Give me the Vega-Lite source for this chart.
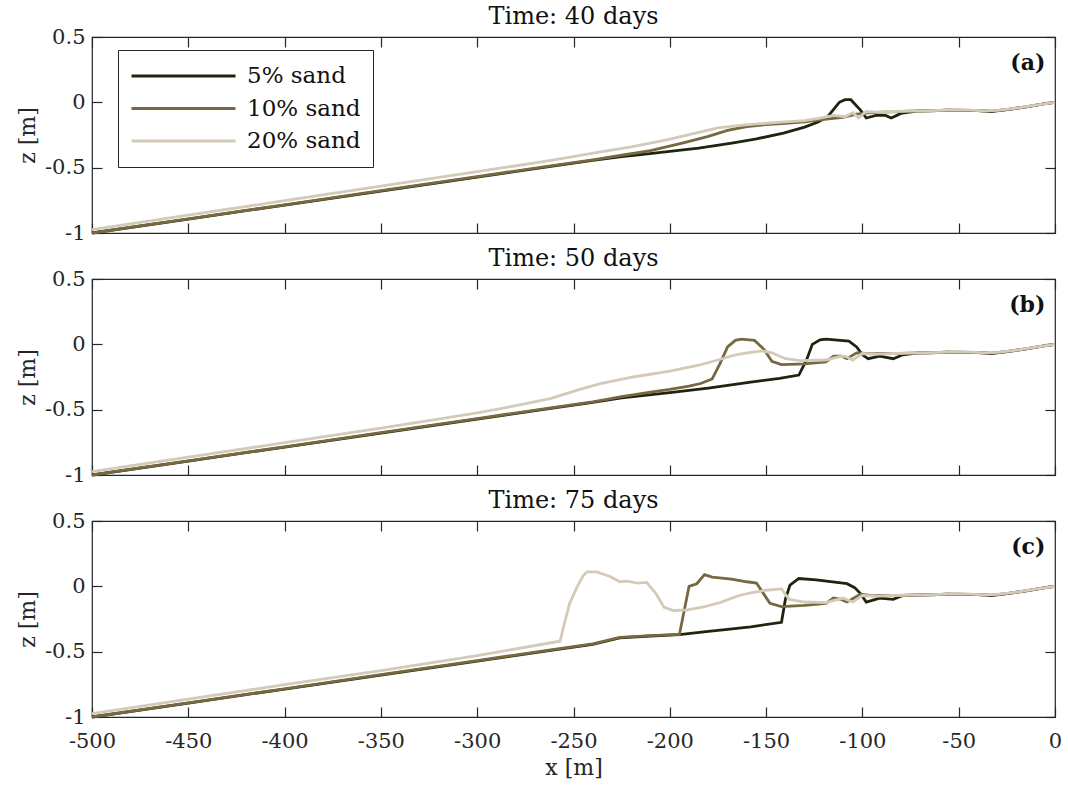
{
  "$schema": "https://vega.github.io/schema/vega-lite/v6.json",
  "background": "white",
  "padding": {"left": 15, "top": 4, "right": 12, "bottom": 4},
  "config": {
    "font": "DejaVu Serif",
    "view": {"stroke": "#262626", "strokeWidth": 1.2},
    "axis": {
      "domain": false, "grid": false, "tickSize": -10, "tickColor": "#262626", "tickWidth": 1.2,
      "labelFont": "DejaVu Serif", "labelFontSize": 21, "labelColor": "#262626",
      "labelFlush": false, "labelOverlap": false,
      "titleFont": "DejaVu Serif", "titleFontSize": 22, "titleFontWeight": "normal", "titleColor": "#262626"
    },
    "axisY": {"labelPadding": 17, "titlePadding": 5},
    "axisX": {"labelPadding": 23, "titlePadding": 6},
    "title": {"font": "DejaVu Serif", "fontSize": 24, "fontWeight": "normal", "color": "#111111", "offset": -3},
    "legend": {"labelFont": "DejaVu Serif"}
  },
  "spacing": 2,
  "resolve": {"legend": {"color": "independent"}},
  "datasets": {
    "d": [
      {"p":"a","s":"5% sand","x":-500,"z":-1.0},{"p":"a","s":"5% sand","x":-450,"z":-0.893},{"p":"a","s":"5% sand","x":-400,"z":-0.786},{"p":"a","s":"5% sand","x":-350,"z":-0.679},{"p":"a","s":"5% sand","x":-300,"z":-0.572},{"p":"a","s":"5% sand","x":-260,"z":-0.486},{"p":"a","s":"5% sand","x":-240,"z":-0.445},{"p":"a","s":"5% sand","x":-225,"z":-0.415},{"p":"a","s":"5% sand","x":-215,"z":-0.4},{"p":"a","s":"5% sand","x":-200,"z":-0.375},{"p":"a","s":"5% sand","x":-185,"z":-0.35},{"p":"a","s":"5% sand","x":-167,"z":-0.31},{"p":"a","s":"5% sand","x":-155,"z":-0.28},{"p":"a","s":"5% sand","x":-141,"z":-0.235},{"p":"a","s":"5% sand","x":-130,"z":-0.19},{"p":"a","s":"5% sand","x":-123,"z":-0.15},{"p":"a","s":"5% sand","x":-118,"z":-0.11},{"p":"a","s":"5% sand","x":-112,"z":0.0},{"p":"a","s":"5% sand","x":-109,"z":0.02},{"p":"a","s":"5% sand","x":-106,"z":0.02},{"p":"a","s":"5% sand","x":-101,"z":-0.06},{"p":"a","s":"5% sand","x":-98,"z":-0.12},{"p":"a","s":"5% sand","x":-93,"z":-0.1},{"p":"a","s":"5% sand","x":-88,"z":-0.1},{"p":"a","s":"5% sand","x":-85,"z":-0.12},{"p":"a","s":"5% sand","x":-80,"z":-0.085},{"p":"a","s":"5% sand","x":-72,"z":-0.068},{"p":"a","s":"5% sand","x":-64,"z":-0.065},{"p":"a","s":"5% sand","x":-56,"z":-0.06},{"p":"a","s":"5% sand","x":-48,"z":-0.062},{"p":"a","s":"5% sand","x":-40,"z":-0.064},{"p":"a","s":"5% sand","x":-33,"z":-0.07},{"p":"a","s":"5% sand","x":-25,"z":-0.055},{"p":"a","s":"5% sand","x":-15,"z":-0.035},{"p":"a","s":"5% sand","x":-5,"z":-0.01},{"p":"a","s":"5% sand","x":0,"z":0.0},

      {"p":"a","s":"10% sand","x":-500,"z":-1.0},{"p":"a","s":"10% sand","x":-450,"z":-0.892},{"p":"a","s":"10% sand","x":-400,"z":-0.784},{"p":"a","s":"10% sand","x":-350,"z":-0.676},{"p":"a","s":"10% sand","x":-300,"z":-0.568},{"p":"a","s":"10% sand","x":-260,"z":-0.482},{"p":"a","s":"10% sand","x":-240,"z":-0.44},{"p":"a","s":"10% sand","x":-225,"z":-0.405},{"p":"a","s":"10% sand","x":-210,"z":-0.37},{"p":"a","s":"10% sand","x":-193,"z":-0.31},{"p":"a","s":"10% sand","x":-180,"z":-0.26},{"p":"a","s":"10% sand","x":-170,"z":-0.215},{"p":"a","s":"10% sand","x":-160,"z":-0.185},{"p":"a","s":"10% sand","x":-150,"z":-0.17},{"p":"a","s":"10% sand","x":-140,"z":-0.16},{"p":"a","s":"10% sand","x":-130,"z":-0.15},{"p":"a","s":"10% sand","x":-120,"z":-0.13},{"p":"a","s":"10% sand","x":-110,"z":-0.115},{"p":"a","s":"10% sand","x":-103,"z":-0.09},{"p":"a","s":"10% sand","x":-97,"z":-0.08},{"p":"a","s":"10% sand","x":-90,"z":-0.075},{"p":"a","s":"10% sand","x":-80,"z":-0.07},{"p":"a","s":"10% sand","x":-72,"z":-0.066},{"p":"a","s":"10% sand","x":-64,"z":-0.064},{"p":"a","s":"10% sand","x":-56,"z":-0.06},{"p":"a","s":"10% sand","x":-48,"z":-0.06},{"p":"a","s":"10% sand","x":-40,"z":-0.063},{"p":"a","s":"10% sand","x":-33,"z":-0.068},{"p":"a","s":"10% sand","x":-25,"z":-0.055},{"p":"a","s":"10% sand","x":-15,"z":-0.035},{"p":"a","s":"10% sand","x":-5,"z":-0.01},{"p":"a","s":"10% sand","x":0,"z":0.0},

      {"p":"a","s":"20% sand","x":-500,"z":-0.975},{"p":"a","s":"20% sand","x":-450,"z":-0.864},{"p":"a","s":"20% sand","x":-400,"z":-0.753},{"p":"a","s":"20% sand","x":-350,"z":-0.642},{"p":"a","s":"20% sand","x":-300,"z":-0.531},{"p":"a","s":"20% sand","x":-260,"z":-0.44},{"p":"a","s":"20% sand","x":-236,"z":-0.38},{"p":"a","s":"20% sand","x":-220,"z":-0.34},{"p":"a","s":"20% sand","x":-201,"z":-0.285},{"p":"a","s":"20% sand","x":-185,"z":-0.23},{"p":"a","s":"20% sand","x":-175,"z":-0.195},{"p":"a","s":"20% sand","x":-162,"z":-0.175},{"p":"a","s":"20% sand","x":-150,"z":-0.16},{"p":"a","s":"20% sand","x":-140,"z":-0.15},{"p":"a","s":"20% sand","x":-130,"z":-0.14},{"p":"a","s":"20% sand","x":-122,"z":-0.12},{"p":"a","s":"20% sand","x":-115,"z":-0.1},{"p":"a","s":"20% sand","x":-109,"z":-0.11},{"p":"a","s":"20% sand","x":-105,"z":-0.08},{"p":"a","s":"20% sand","x":-102,"z":-0.12},{"p":"a","s":"20% sand","x":-98,"z":-0.07},{"p":"a","s":"20% sand","x":-92,"z":-0.075},{"p":"a","s":"20% sand","x":-84,"z":-0.07},{"p":"a","s":"20% sand","x":-76,"z":-0.068},{"p":"a","s":"20% sand","x":-68,"z":-0.065},{"p":"a","s":"20% sand","x":-60,"z":-0.062},{"p":"a","s":"20% sand","x":-52,"z":-0.058},{"p":"a","s":"20% sand","x":-44,"z":-0.06},{"p":"a","s":"20% sand","x":-36,"z":-0.065},{"p":"a","s":"20% sand","x":-30,"z":-0.062},{"p":"a","s":"20% sand","x":-20,"z":-0.045},{"p":"a","s":"20% sand","x":-10,"z":-0.022},{"p":"a","s":"20% sand","x":0,"z":0.0},

      {"p":"b","s":"5% sand","x":-500,"z":-1.0},{"p":"b","s":"5% sand","x":-450,"z":-0.893},{"p":"b","s":"5% sand","x":-400,"z":-0.786},{"p":"b","s":"5% sand","x":-350,"z":-0.679},{"p":"b","s":"5% sand","x":-300,"z":-0.572},{"p":"b","s":"5% sand","x":-260,"z":-0.486},{"p":"b","s":"5% sand","x":-240,"z":-0.445},{"p":"b","s":"5% sand","x":-225,"z":-0.41},{"p":"b","s":"5% sand","x":-200,"z":-0.37},{"p":"b","s":"5% sand","x":-180,"z":-0.335},{"p":"b","s":"5% sand","x":-158,"z":-0.29},{"p":"b","s":"5% sand","x":-143,"z":-0.26},{"p":"b","s":"5% sand","x":-133,"z":-0.235},{"p":"b","s":"5% sand","x":-129,"z":-0.12},{"p":"b","s":"5% sand","x":-126,"z":0.0},{"p":"b","s":"5% sand","x":-122,"z":0.035},{"p":"b","s":"5% sand","x":-119,"z":0.04},{"p":"b","s":"5% sand","x":-107,"z":0.025},{"p":"b","s":"5% sand","x":-103,"z":-0.02},{"p":"b","s":"5% sand","x":-100,"z":-0.08},{"p":"b","s":"5% sand","x":-97,"z":-0.11},{"p":"b","s":"5% sand","x":-91,"z":-0.09},{"p":"b","s":"5% sand","x":-84,"z":-0.11},{"p":"b","s":"5% sand","x":-79,"z":-0.08},{"p":"b","s":"5% sand","x":-72,"z":-0.068},{"p":"b","s":"5% sand","x":-64,"z":-0.065},{"p":"b","s":"5% sand","x":-56,"z":-0.06},{"p":"b","s":"5% sand","x":-48,"z":-0.062},{"p":"b","s":"5% sand","x":-40,"z":-0.064},{"p":"b","s":"5% sand","x":-33,"z":-0.07},{"p":"b","s":"5% sand","x":-25,"z":-0.055},{"p":"b","s":"5% sand","x":-15,"z":-0.035},{"p":"b","s":"5% sand","x":-5,"z":-0.01},{"p":"b","s":"5% sand","x":0,"z":0.0},

      {"p":"b","s":"10% sand","x":-500,"z":-1.0},{"p":"b","s":"10% sand","x":-450,"z":-0.892},{"p":"b","s":"10% sand","x":-400,"z":-0.784},{"p":"b","s":"10% sand","x":-350,"z":-0.676},{"p":"b","s":"10% sand","x":-300,"z":-0.568},{"p":"b","s":"10% sand","x":-260,"z":-0.482},{"p":"b","s":"10% sand","x":-240,"z":-0.44},{"p":"b","s":"10% sand","x":-225,"z":-0.4},{"p":"b","s":"10% sand","x":-210,"z":-0.365},{"p":"b","s":"10% sand","x":-200,"z":-0.345},{"p":"b","s":"10% sand","x":-190,"z":-0.32},{"p":"b","s":"10% sand","x":-184,"z":-0.3},{"p":"b","s":"10% sand","x":-178,"z":-0.265},{"p":"b","s":"10% sand","x":-174,"z":-0.15},{"p":"b","s":"10% sand","x":-170,"z":-0.02},{"p":"b","s":"10% sand","x":-166,"z":0.03},{"p":"b","s":"10% sand","x":-163,"z":0.04},{"p":"b","s":"10% sand","x":-156,"z":0.03},{"p":"b","s":"10% sand","x":-151,"z":-0.04},{"p":"b","s":"10% sand","x":-147,"z":-0.13},{"p":"b","s":"10% sand","x":-142,"z":-0.155},{"p":"b","s":"10% sand","x":-130,"z":-0.15},{"p":"b","s":"10% sand","x":-119,"z":-0.135},{"p":"b","s":"10% sand","x":-115,"z":-0.09},{"p":"b","s":"10% sand","x":-111,"z":-0.09},{"p":"b","s":"10% sand","x":-108,"z":-0.11},{"p":"b","s":"10% sand","x":-103,"z":-0.065},{"p":"b","s":"10% sand","x":-95,"z":-0.072},{"p":"b","s":"10% sand","x":-88,"z":-0.07},{"p":"b","s":"10% sand","x":-80,"z":-0.07},{"p":"b","s":"10% sand","x":-72,"z":-0.066},{"p":"b","s":"10% sand","x":-64,"z":-0.064},{"p":"b","s":"10% sand","x":-56,"z":-0.06},{"p":"b","s":"10% sand","x":-48,"z":-0.06},{"p":"b","s":"10% sand","x":-40,"z":-0.063},{"p":"b","s":"10% sand","x":-33,"z":-0.068},{"p":"b","s":"10% sand","x":-25,"z":-0.055},{"p":"b","s":"10% sand","x":-15,"z":-0.035},{"p":"b","s":"10% sand","x":-5,"z":-0.01},{"p":"b","s":"10% sand","x":0,"z":0.0},

      {"p":"b","s":"20% sand","x":-500,"z":-0.975},{"p":"b","s":"20% sand","x":-450,"z":-0.864},{"p":"b","s":"20% sand","x":-400,"z":-0.753},{"p":"b","s":"20% sand","x":-350,"z":-0.642},{"p":"b","s":"20% sand","x":-326,"z":-0.585},{"p":"b","s":"20% sand","x":-300,"z":-0.525},{"p":"b","s":"20% sand","x":-280,"z":-0.47},{"p":"b","s":"20% sand","x":-262,"z":-0.415},{"p":"b","s":"20% sand","x":-248,"z":-0.35},{"p":"b","s":"20% sand","x":-236,"z":-0.3},{"p":"b","s":"20% sand","x":-219,"z":-0.25},{"p":"b","s":"20% sand","x":-200,"z":-0.205},{"p":"b","s":"20% sand","x":-185,"z":-0.16},{"p":"b","s":"20% sand","x":-175,"z":-0.12},{"p":"b","s":"20% sand","x":-167,"z":-0.085},{"p":"b","s":"20% sand","x":-160,"z":-0.065},{"p":"b","s":"20% sand","x":-152,"z":-0.05},{"p":"b","s":"20% sand","x":-147,"z":-0.065},{"p":"b","s":"20% sand","x":-140,"z":-0.11},{"p":"b","s":"20% sand","x":-132,"z":-0.125},{"p":"b","s":"20% sand","x":-119,"z":-0.12},{"p":"b","s":"20% sand","x":-112,"z":-0.095},{"p":"b","s":"20% sand","x":-109,"z":-0.09},{"p":"b","s":"20% sand","x":-105,"z":-0.12},{"p":"b","s":"20% sand","x":-100,"z":-0.07},{"p":"b","s":"20% sand","x":-92,"z":-0.075},{"p":"b","s":"20% sand","x":-84,"z":-0.07},{"p":"b","s":"20% sand","x":-76,"z":-0.068},{"p":"b","s":"20% sand","x":-68,"z":-0.065},{"p":"b","s":"20% sand","x":-60,"z":-0.062},{"p":"b","s":"20% sand","x":-52,"z":-0.058},{"p":"b","s":"20% sand","x":-44,"z":-0.06},{"p":"b","s":"20% sand","x":-36,"z":-0.065},{"p":"b","s":"20% sand","x":-30,"z":-0.062},{"p":"b","s":"20% sand","x":-20,"z":-0.045},{"p":"b","s":"20% sand","x":-10,"z":-0.022},{"p":"b","s":"20% sand","x":0,"z":0.0},

      {"p":"c","s":"5% sand","x":-500,"z":-1.0},{"p":"c","s":"5% sand","x":-450,"z":-0.893},{"p":"c","s":"5% sand","x":-400,"z":-0.786},{"p":"c","s":"5% sand","x":-350,"z":-0.679},{"p":"c","s":"5% sand","x":-300,"z":-0.572},{"p":"c","s":"5% sand","x":-260,"z":-0.486},{"p":"c","s":"5% sand","x":-240,"z":-0.445},{"p":"c","s":"5% sand","x":-226,"z":-0.395},{"p":"c","s":"5% sand","x":-210,"z":-0.38},{"p":"c","s":"5% sand","x":-195,"z":-0.37},{"p":"c","s":"5% sand","x":-180,"z":-0.345},{"p":"c","s":"5% sand","x":-170,"z":-0.33},{"p":"c","s":"5% sand","x":-158,"z":-0.31},{"p":"c","s":"5% sand","x":-142,"z":-0.275},{"p":"c","s":"5% sand","x":-140,"z":-0.1},{"p":"c","s":"5% sand","x":-137.6,"z":0.01},{"p":"c","s":"5% sand","x":-133,"z":0.06},{"p":"c","s":"5% sand","x":-124,"z":0.05},{"p":"c","s":"5% sand","x":-108,"z":0.02},{"p":"c","s":"5% sand","x":-104,"z":-0.01},{"p":"c","s":"5% sand","x":-101,"z":-0.055},{"p":"c","s":"5% sand","x":-98,"z":-0.12},{"p":"c","s":"5% sand","x":-91,"z":-0.09},{"p":"c","s":"5% sand","x":-84,"z":-0.1},{"p":"c","s":"5% sand","x":-79,"z":-0.07},{"p":"c","s":"5% sand","x":-72,"z":-0.068},{"p":"c","s":"5% sand","x":-64,"z":-0.065},{"p":"c","s":"5% sand","x":-56,"z":-0.06},{"p":"c","s":"5% sand","x":-48,"z":-0.062},{"p":"c","s":"5% sand","x":-40,"z":-0.064},{"p":"c","s":"5% sand","x":-33,"z":-0.07},{"p":"c","s":"5% sand","x":-25,"z":-0.055},{"p":"c","s":"5% sand","x":-15,"z":-0.035},{"p":"c","s":"5% sand","x":-5,"z":-0.01},{"p":"c","s":"5% sand","x":0,"z":0.0},

      {"p":"c","s":"10% sand","x":-500,"z":-1.0},{"p":"c","s":"10% sand","x":-450,"z":-0.892},{"p":"c","s":"10% sand","x":-400,"z":-0.784},{"p":"c","s":"10% sand","x":-350,"z":-0.676},{"p":"c","s":"10% sand","x":-300,"z":-0.568},{"p":"c","s":"10% sand","x":-260,"z":-0.482},{"p":"c","s":"10% sand","x":-240,"z":-0.44},{"p":"c","s":"10% sand","x":-226,"z":-0.39},{"p":"c","s":"10% sand","x":-210,"z":-0.378},{"p":"c","s":"10% sand","x":-195,"z":-0.368},{"p":"c","s":"10% sand","x":-190,"z":0.0},{"p":"c","s":"10% sand","x":-186,"z":0.02},{"p":"c","s":"10% sand","x":-182,"z":0.09},{"p":"c","s":"10% sand","x":-178,"z":0.07},{"p":"c","s":"10% sand","x":-168,"z":0.055},{"p":"c","s":"10% sand","x":-160,"z":0.035},{"p":"c","s":"10% sand","x":-155,"z":0.025},{"p":"c","s":"10% sand","x":-148,"z":-0.13},{"p":"c","s":"10% sand","x":-142,"z":-0.155},{"p":"c","s":"10% sand","x":-130,"z":-0.145},{"p":"c","s":"10% sand","x":-119,"z":-0.13},{"p":"c","s":"10% sand","x":-115,"z":-0.09},{"p":"c","s":"10% sand","x":-111,"z":-0.1},{"p":"c","s":"10% sand","x":-108,"z":-0.12},{"p":"c","s":"10% sand","x":-101,"z":-0.06},{"p":"c","s":"10% sand","x":-95,"z":-0.072},{"p":"c","s":"10% sand","x":-88,"z":-0.07},{"p":"c","s":"10% sand","x":-80,"z":-0.07},{"p":"c","s":"10% sand","x":-72,"z":-0.066},{"p":"c","s":"10% sand","x":-64,"z":-0.064},{"p":"c","s":"10% sand","x":-56,"z":-0.06},{"p":"c","s":"10% sand","x":-48,"z":-0.06},{"p":"c","s":"10% sand","x":-40,"z":-0.063},{"p":"c","s":"10% sand","x":-33,"z":-0.068},{"p":"c","s":"10% sand","x":-25,"z":-0.055},{"p":"c","s":"10% sand","x":-15,"z":-0.035},{"p":"c","s":"10% sand","x":-5,"z":-0.01},{"p":"c","s":"10% sand","x":0,"z":0.0},

      {"p":"c","s":"20% sand","x":-500,"z":-0.975},{"p":"c","s":"20% sand","x":-450,"z":-0.864},{"p":"c","s":"20% sand","x":-400,"z":-0.753},{"p":"c","s":"20% sand","x":-350,"z":-0.645},{"p":"c","s":"20% sand","x":-300,"z":-0.53},{"p":"c","s":"20% sand","x":-257,"z":-0.42},{"p":"c","s":"20% sand","x":-255,"z":-0.3},{"p":"c","s":"20% sand","x":-252,"z":-0.13},{"p":"c","s":"20% sand","x":-248,"z":0.0},{"p":"c","s":"20% sand","x":-245,"z":0.08},{"p":"c","s":"20% sand","x":-243,"z":0.11},{"p":"c","s":"20% sand","x":-238,"z":0.11},{"p":"c","s":"20% sand","x":-231,"z":0.075},{"p":"c","s":"20% sand","x":-226,"z":0.035},{"p":"c","s":"20% sand","x":-222,"z":0.04},{"p":"c","s":"20% sand","x":-217,"z":0.025},{"p":"c","s":"20% sand","x":-212,"z":0.03},{"p":"c","s":"20% sand","x":-207,"z":-0.06},{"p":"c","s":"20% sand","x":-203,"z":-0.16},{"p":"c","s":"20% sand","x":-198,"z":-0.185},{"p":"c","s":"20% sand","x":-191,"z":-0.18},{"p":"c","s":"20% sand","x":-183,"z":-0.16},{"p":"c","s":"20% sand","x":-174,"z":-0.125},{"p":"c","s":"20% sand","x":-164,"z":-0.07},{"p":"c","s":"20% sand","x":-158,"z":-0.05},{"p":"c","s":"20% sand","x":-150,"z":-0.03},{"p":"c","s":"20% sand","x":-142,"z":-0.02},{"p":"c","s":"20% sand","x":-138,"z":-0.1},{"p":"c","s":"20% sand","x":-130,"z":-0.12},{"p":"c","s":"20% sand","x":-119,"z":-0.125},{"p":"c","s":"20% sand","x":-110,"z":-0.09},{"p":"c","s":"20% sand","x":-105,"z":-0.12},{"p":"c","s":"20% sand","x":-100,"z":-0.07},{"p":"c","s":"20% sand","x":-92,"z":-0.075},{"p":"c","s":"20% sand","x":-84,"z":-0.07},{"p":"c","s":"20% sand","x":-76,"z":-0.068},{"p":"c","s":"20% sand","x":-68,"z":-0.065},{"p":"c","s":"20% sand","x":-60,"z":-0.062},{"p":"c","s":"20% sand","x":-52,"z":-0.058},{"p":"c","s":"20% sand","x":-44,"z":-0.06},{"p":"c","s":"20% sand","x":-36,"z":-0.065},{"p":"c","s":"20% sand","x":-30,"z":-0.062},{"p":"c","s":"20% sand","x":-20,"z":-0.045},{"p":"c","s":"20% sand","x":-10,"z":-0.022},{"p":"c","s":"20% sand","x":0,"z":0.0}
    ],
    "lab": [
      {"p":"a","t":"(a)","x":-5,"z":0.3},
      {"p":"b","t":"(b)","x":-5,"z":0.3},
      {"p":"c","t":"(c)","x":-5,"z":0.3}
    ]
  },
  "vconcat": [
    {
      "width": 963, "height": 196,
      "title": "Time: 40 days",
      "resolve": {"axis": {"x": "independent", "y": "independent"}},
      "layer": [
        {
          "data": {"name": "d"},
          "transform": [{"filter": "datum.p == 'a'"}],
          "mark": {"type": "line", "strokeWidth": 2.8},
          "encoding": {
            "x": {"field": "x", "type": "quantitative", "scale": {"domain": [-500, 0], "nice": false, "zero": false},
                  "axis": {"values": [-500,-450,-400,-350,-300,-250,-200,-150,-100,-50,0], "labels": false, "title": null}},
            "y": {"field": "z", "type": "quantitative", "scale": {"domain": [-1, 0.5], "nice": false, "zero": false},
                  "axis": {"values": [-1,-0.5,0,0.5], "labelExpr": "toString(datum.value)", "title": "z [m]"}},
            "color": {"field": "s", "type": "nominal",
                      "scale": {"domain": ["5% sand","10% sand","20% sand"], "range": ["#1f240f","#76693f","#d3cab9"]},
                      "legend": {"orient": "none", "legendX": 26, "legendY": 13, "title": null, "direction": "vertical",
                                 "symbolType": "stroke", "symbolSize": 10816, "symbolStrokeWidth": 3, "clipHeight": 28,
                                 "labelFontSize": 23, "labelColor": "#111111", "labelFont": "DejaVu Serif",
                                 "strokeColor": "#262626", "fillColor": "white", "padding": 12, "rowPadding": 4.5, "labelOffset": 10}}
          }
        },
        {
          "data": {"name": "lab"},
          "transform": [{"filter": "datum.p == 'a'"}],
          "mark": {"type": "text", "align": "right", "baseline": "middle", "fontWeight": "bold", "fontSize": 22, "font": "DejaVu Serif", "color": "#111111"},
          "encoding": {
            "text": {"field": "t"},
            "x": {"field": "x", "type": "quantitative", "axis": {"orient": "top", "values": [-500,-450,-400,-350,-300,-250,-200,-150,-100,-50,0], "labels": false, "title": null}},
            "y": {"field": "z", "type": "quantitative", "axis": {"orient": "right", "values": [-1,-0.5,0,0.5], "labels": false, "title": null}}
          }
        }
      ]
    },
    {
      "width": 963, "height": 196,
      "title": "Time: 50 days",
      "resolve": {"axis": {"x": "independent", "y": "independent"}},
      "layer": [
        {
          "data": {"name": "d"},
          "transform": [{"filter": "datum.p == 'b'"}],
          "mark": {"type": "line", "strokeWidth": 2.8},
          "encoding": {
            "x": {"field": "x", "type": "quantitative", "scale": {"domain": [-500, 0], "nice": false, "zero": false},
                  "axis": {"values": [-500,-450,-400,-350,-300,-250,-200,-150,-100,-50,0], "labels": false, "title": null}},
            "y": {"field": "z", "type": "quantitative", "scale": {"domain": [-1, 0.5], "nice": false, "zero": false},
                  "axis": {"values": [-1,-0.5,0,0.5], "labelExpr": "toString(datum.value)", "title": "z [m]"}},
            "color": {"field": "s", "type": "nominal",
                      "scale": {"domain": ["5% sand","10% sand","20% sand"], "range": ["#1f240f","#76693f","#d3cab9"]},
                      "legend": null}
          }
        },
        {
          "data": {"name": "lab"},
          "transform": [{"filter": "datum.p == 'b'"}],
          "mark": {"type": "text", "align": "right", "baseline": "middle", "fontWeight": "bold", "fontSize": 22, "font": "DejaVu Serif", "color": "#111111"},
          "encoding": {
            "text": {"field": "t"},
            "x": {"field": "x", "type": "quantitative", "axis": {"orient": "top", "values": [-500,-450,-400,-350,-300,-250,-200,-150,-100,-50,0], "labels": false, "title": null}},
            "y": {"field": "z", "type": "quantitative", "axis": {"orient": "right", "values": [-1,-0.5,0,0.5], "labels": false, "title": null}}
          }
        }
      ]
    },
    {
      "width": 963, "height": 196,
      "title": "Time: 75 days",
      "resolve": {"axis": {"x": "independent", "y": "independent"}},
      "layer": [
        {
          "data": {"name": "d"},
          "transform": [{"filter": "datum.p == 'c'"}],
          "mark": {"type": "line", "strokeWidth": 2.8},
          "encoding": {
            "x": {"field": "x", "type": "quantitative", "scale": {"domain": [-500, 0], "nice": false, "zero": false},
                  "axis": {"values": [-500,-450,-400,-350,-300,-250,-200,-150,-100,-50,0], "labelExpr": "toString(datum.value)", "title": "x [m]"}},
            "y": {"field": "z", "type": "quantitative", "scale": {"domain": [-1, 0.5], "nice": false, "zero": false},
                  "axis": {"values": [-1,-0.5,0,0.5], "labelExpr": "toString(datum.value)", "title": "z [m]"}},
            "color": {"field": "s", "type": "nominal",
                      "scale": {"domain": ["5% sand","10% sand","20% sand"], "range": ["#1f240f","#76693f","#d3cab9"]},
                      "legend": null}
          }
        },
        {
          "data": {"name": "lab"},
          "transform": [{"filter": "datum.p == 'c'"}],
          "mark": {"type": "text", "align": "right", "baseline": "middle", "fontWeight": "bold", "fontSize": 22, "font": "DejaVu Serif", "color": "#111111"},
          "encoding": {
            "text": {"field": "t"},
            "x": {"field": "x", "type": "quantitative", "axis": {"orient": "top", "values": [-500,-450,-400,-350,-300,-250,-200,-150,-100,-50,0], "labels": false, "title": null}},
            "y": {"field": "z", "type": "quantitative", "axis": {"orient": "right", "values": [-1,-0.5,0,0.5], "labels": false, "title": null}}
          }
        }
      ]
    }
  ]
}
